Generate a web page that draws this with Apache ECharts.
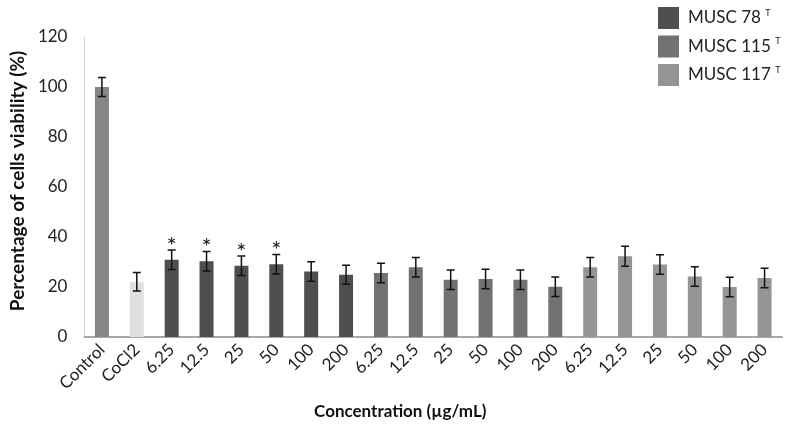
<!DOCTYPE html>
<html>
<head>
<meta charset="utf-8">
<script src="https://cdn.jsdelivr.net/npm/echarts@6/dist/echarts.min.js"></script>
<style>html,body{margin:0;padding:0;background:#fff}#c{width:786px;height:425px}</style>
</head>
<body>
<div id="c"></div>
<script>
const categories = ['Control','CoCl2','6.25','12.5','25','50','100','200','6.25','12.5','25','50','100','200','6.25','12.5','25','50','100','200'];
const controlVal = [100];
const controlErr = [3.8];
const cocl2Val = [22.1];
const cocl2Err = [3.7];
const musc78 = [30.9, 30.3, 28.5, 29.1, 26.2, 24.9];
const err78 = [3.9, 3.9, 3.9, 3.9, 3.9, 3.8];
const musc115 = [25.6, 27.9, 22.9, 23.2, 22.9, 20.1];
const err115 = [3.9, 3.9, 3.9, 3.9, 3.9, 3.9];
const musc117 = [27.9, 32.3, 29.0, 24.2, 20.0, 23.6];
const err117 = [3.9, 4.0, 3.9, 3.9, 3.9, 3.9];
const sig78 = [true, true, true, true, false, false];
const yTicks = [0, 20, 40, 60, 80, 100, 120];

const FONT = 'Lato, "Open Sans", sans-serif';
const N = categories.length;
function place(vals, start) {
  const arr = new Array(N).fill(null);
  vals.forEach((v, i) => { arr[start + i] = v; });
  return arr;
}
const allVals = [].concat(controlVal, cocl2Val, musc78, musc115, musc117);
const allErr = [].concat(controlErr, cocl2Err, err78, err115, err117);
const errData = allVals.map((v, i) => [i, v, allErr[i]]);
const starData = [];
sig78.forEach((s, i) => { if (s) starData.push([2 + i, musc78[i] + err78[i]]); });

const barBase = { type: 'bar', barWidth: 14, barGap: '-100%', silent: true };
const chart = echarts.init(document.getElementById('c'));
chart.setOption({
  animation: false,
  grid: { left: 72, right: 4, top: 37, bottom: 86, containLabel: false },
  legend: {
    data: ['MUSC 78', 'MUSC 115', 'MUSC 117'],
    orient: 'vertical', left: 653, top: 2,
    itemWidth: 21, itemHeight: 22, itemGap: 6.5,
    icon: 'rect',
    formatter: n => n + ' {s|T}',
    textStyle: {
      fontFamily: FONT, fontSize: 17, color: '#222', padding: [0, 0, 0, 4],
      rich: { s: { fontSize: 9, verticalAlign: 'top', padding: [0, 0, 10, 0], fontFamily: FONT, color: '#222' } }
    }
  },
  xAxis: {
    type: 'category', data: categories,
    axisLine: { lineStyle: { color: '#a8a8a8', width: 2 } },
    axisTick: { show: false },
    axisLabel: { rotate: 45, interval: 0, fontFamily: FONT, fontSize: 17, color: '#222', margin: 10 },
    name: 'Concentration (\u00b5g/mL)', nameLocation: 'middle', nameGap: 66,
    nameTextStyle: { fontFamily: FONT, fontSize: 17, fontWeight: 'bold', color: '#111', padding: [0, 66, 0, 0] }
  },
  yAxis: {
    type: 'value', min: yTicks[0], max: yTicks[yTicks.length - 1], interval: 20,
    axisLine: { show: true, lineStyle: { color: '#d0d0d0', width: 1 } },
    axisTick: { show: false }, splitLine: { show: false },
    axisLabel: { fontFamily: FONT, fontSize: 17, color: '#222', margin: 17 },
    name: 'Percentage of cells viability (%)', nameLocation: 'middle', nameGap: 56,
    nameTextStyle: { fontFamily: FONT, fontSize: 19, fontWeight: 'bold', color: '#111', padding: [0, 0, 0, 12] }
  },
  series: [
    Object.assign({}, barBase, { name: 'Control', data: place(controlVal, 0), itemStyle: { color: '#868686' } }),
    Object.assign({}, barBase, { name: 'CoCl2', data: place(cocl2Val, 1), itemStyle: { color: '#e0e0e0' } }),
    Object.assign({}, barBase, { name: 'MUSC 78', data: place(musc78, 2), itemStyle: { color: '#4f4f4f' } }),
    Object.assign({}, barBase, { name: 'MUSC 115', data: place(musc115, 8), itemStyle: { color: '#727272' } }),
    Object.assign({}, barBase, { name: 'MUSC 117', data: place(musc117, 14), itemStyle: { color: '#959595' } }),
    {
      type: 'custom', name: 'err', silent: true, z: 10,
      data: errData,
      renderItem: function (params, api) {
        const x = api.value(0), v = api.value(1), e = api.value(2);
        const top = api.coord([x, v + e]);
        const bot = api.coord([x, v - e]);
        const hw = 4;
        const st = { stroke: '#111', lineWidth: 1.5 };
        return { type: 'group', children: [
          { type: 'line', shape: { x1: top[0], y1: top[1], x2: bot[0], y2: bot[1] }, style: st },
          { type: 'line', shape: { x1: top[0] - hw, y1: top[1], x2: top[0] + hw, y2: top[1] }, style: st },
          { type: 'line', shape: { x1: bot[0] - hw, y1: bot[1], x2: bot[0] + hw, y2: bot[1] }, style: st }
        ]};
      }
    },
    {
      type: 'custom', name: 'stars', silent: true, z: 10,
      data: starData,
      renderItem: function (params, api) {
        const p = api.coord([api.value(0), api.value(1)]);
        return { type: 'text', x: p[0], y: p[1] - 4,
          style: { text: '*', fontSize: 24, fontFamily: FONT, fill: '#222', align: 'center', verticalAlign: 'middle' } };
      }
    }
  ]
});
</script>
</body>
</html>
